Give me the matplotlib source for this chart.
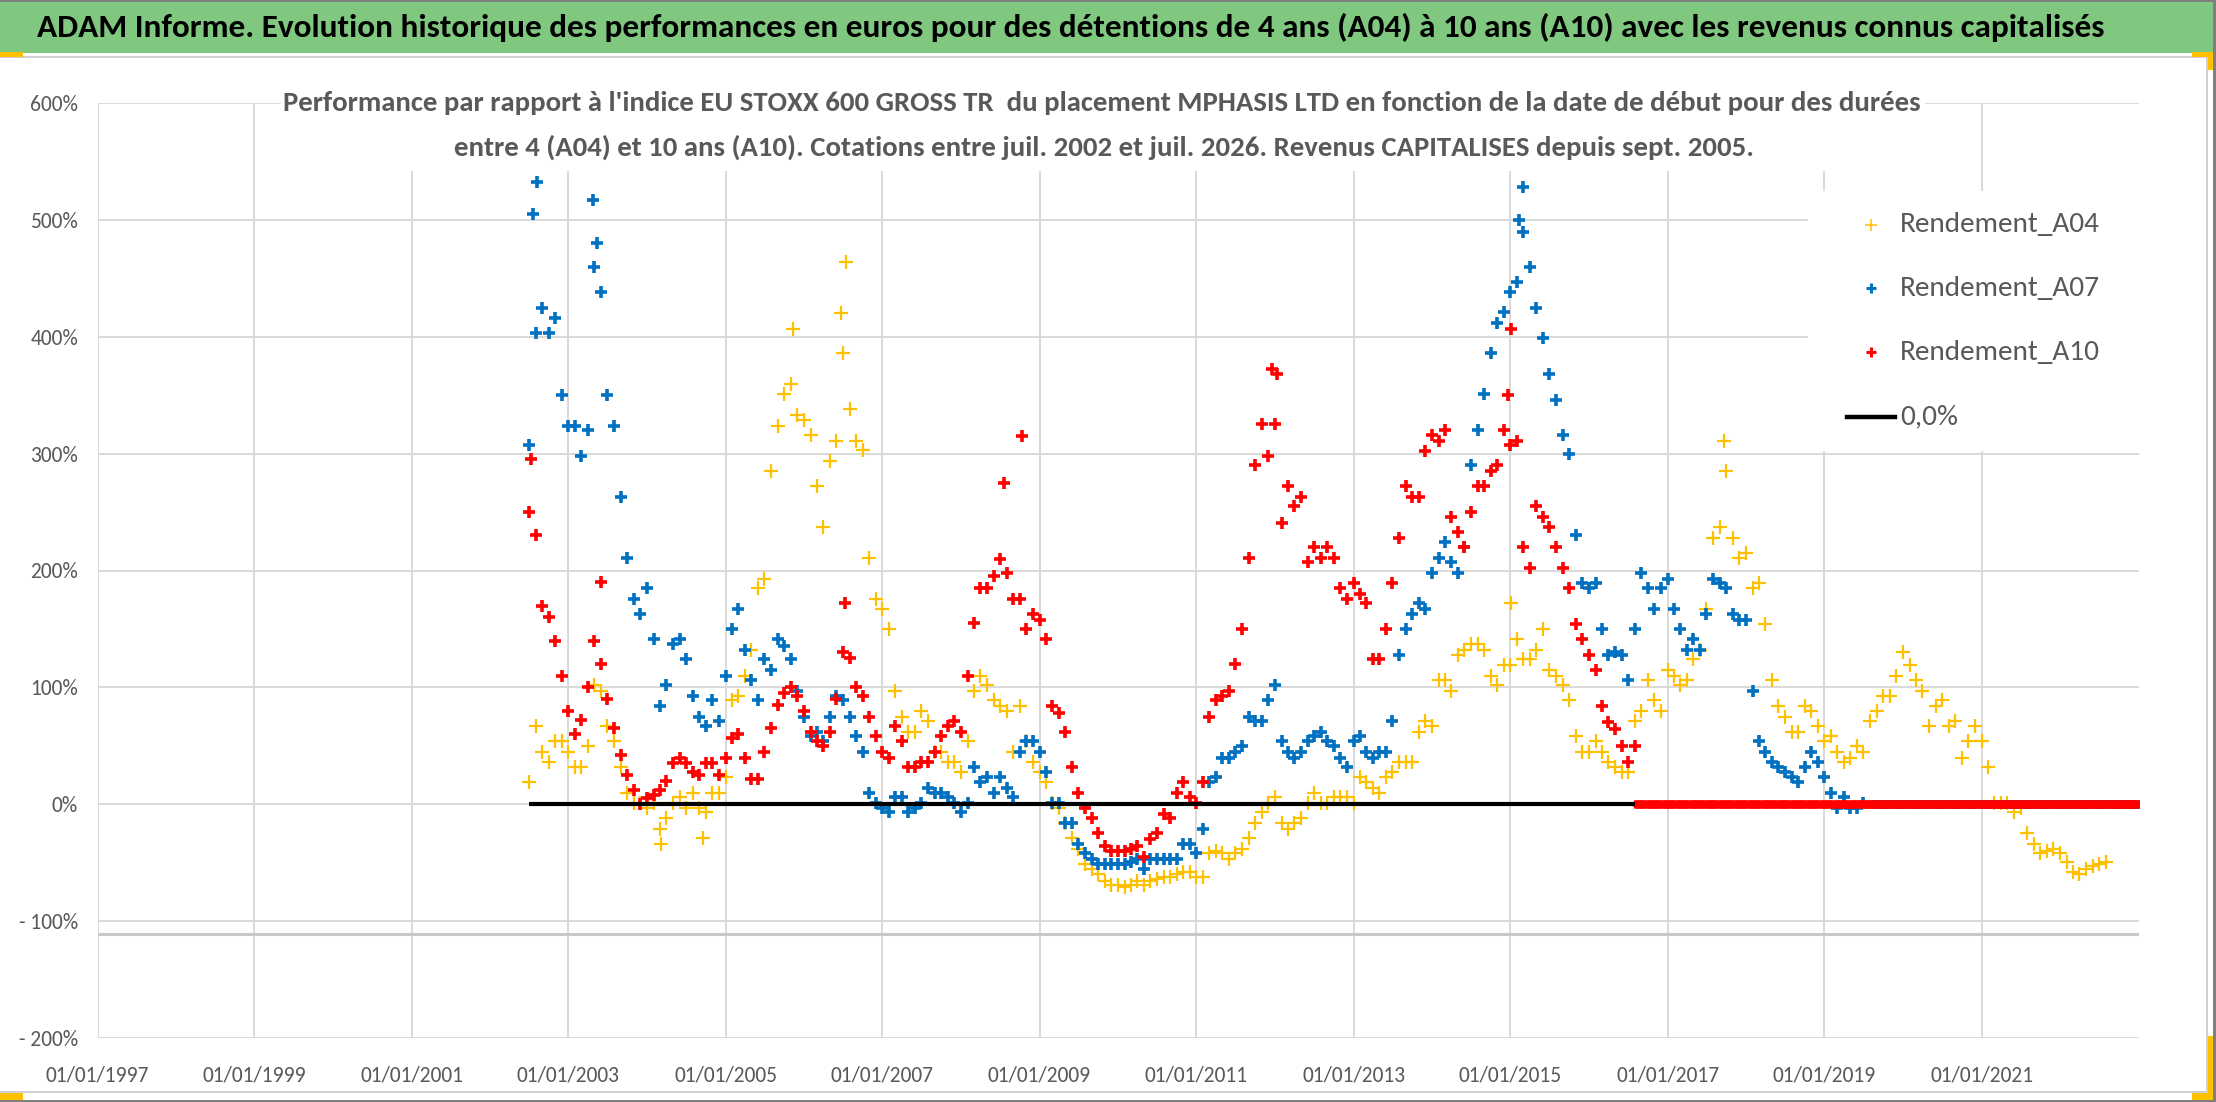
import matplotlib
matplotlib.use("Agg")
import matplotlib.pyplot as plt
import matplotlib.dates as mdates
from matplotlib import font_manager
from matplotlib.patches import Rectangle
from matplotlib.lines import Line2D
import pandas as pd

# pick a Calibri-like font if one is installed
available = {f.name for f in font_manager.fontManager.ttflist}
FONT = next(f for f in ['Carlito', 'Liberation Sans Narrow', 'Lato', 'DejaVu Sans'] if f in available)
plt.rcParams['font.family'] = [FONT, 'DejaVu Sans']

# monthly readings (in %), first month = July 2002
a04_start = '2002-07-01'
a04_values = [
    19, 67, 45, 36, 54, 54,
    45, 32, 32, 50, 102, 97, 67, 54, 32, 10, 1, 1,
    -3, 1, -21, -12, 1, 6, -3, 10, -3, -7, 10, 10,
    23, 89, 93, 110, 132, 185, 193, 285, 324, 351, 360, 333,
    329, 316, 272, 237, 294, 311, 386, 338, 311, 303, 211, 176,
    167, 150, 97, 75, 62, 62, 80, 71, 45, 45, 36, 36,
    28, 54, 97, 110, 102, 89, 84, 80, 45, 84, 54, 36,
    28, 19, 1, -3, -16, -29, -38, -51, -55, -60, -66, -69,
    -69, -71, -69, -66, -69, -66, -64, -62, -62, -60, -58, -58,
    -62, -62, -42, -40, -42, -47, -42, -38, -29, -16, -7, 1,
    6, -16, -21, -16, -12, 1, 10, 1, 1, 6, 6, 6,
    1, 23, 19, 14, 10, 23, 28, 36, 36, 36, 62, 71,
    67, 106, 106, 97, 128, 132, 137, 137, 132, 110, 102, 119,
    119, 141, 124, 124, 132, 150, 115, 110, 102, 89, 58, 45,
    45, 54, 45, 36, 32, 28, 28, 71, 80, 106, 89, 80,
    115, 110, 102, 106, 124, 132, 167, 228, 237, 285, 228, 211,
    215, 185, 189, 154, 106, 84, 75, 62, 62, 84, 80, 67,
    54, 58, 45, 36, 40, 50, 45, 71, 80, 93, 93, 110,
    130, 119, 106, 97, 67, 84, 89, 67, 71, 40, 54, 67,
    54, 32, 1, 1, 1, -7, -3, -25, -34, -42, -40, -38,
    -42, -49, -58, -60, -55, -53, -51, -49,
]
a07_start = '2002-07-01'
a07_values = [
    307, 403, 425, 403, 416, 350,
    324, 324, 298, 320, 460, 438, 350, 324, 263, 211, 176, 163,
    185, 141, 84, 102, 137, 141, 124, 93, 75, 67, 89, 71,
    110, 150, 167, 132, 106, 89, 124, 115, 141, 135, 124, 97,
    75, 58, 62, 54, 75, 93, 89, 75, 58, 45, 10, 1,
    -3, -7, 6, 6, -7, -3, 1, 14, 10, 10, 6, 1,
    -7, 1, 32, 19, 23, 10, 23, 14, 6, 45, 54, 54,
    45, 28, 1, 1, -16, -16, -34, -42, -47, -51, -51, -51,
    -51, -51, -49, -47, -55, -47, -47, -47, -47, -47, -34, -34,
    -42, -21, 19, 23, 40, 40, 45, 50, 75, 71, 71, 89,
    102, 54, 45, 40, 45, 54, 58, 62, 54, 50, 40, 32,
    54, 58, 45, 40, 45, 45, 71, 128, 150, 163, 172, 167,
    198, 211, 224, 207, 198, 220, 290, 320, 351, 386, 412, 421,
    438, 447, 490, 460, 425, 399, 368, 346, 316, 300, 230, 189,
    185, 189, 150, 128, 130, 128, 106, 150, 198, 185, 167, 185,
    193, 167, 150, 132, 141, 132, 163, 193, 189, 185, 163, 158,
    158, 97, 54, 45, 36, 32, 28, 23, 19, 32, 45, 36,
    23, 10, -3, 6, -3, -3, 1,
]
a10_start = '2002-07-01'
a10_values = [
    250, 230, 170, 160, 140, 110,
    80, 60, 72, 100, 140, 120, 90, 65, 42, 25, 12, 0,
    5, 8, 12, 20, 35, 40, 35, 28, 25, 35, 35, 25,
    40, 57, 60, 40, 22, 22, 45, 65, 85, 95, 100, 93,
    80, 62, 54, 50, 62, 90, 130, 125, 100, 93, 75, 58,
    45, 40, 67, 54, 32, 32, 36, 36, 45, 58, 67, 71,
    62, 110, 155, 185, 185, 195, 210, 198, 176, 176, 150, 163,
    158, 141, 84, 78, 62, 32, 10, -3, -12, -25, -36, -40,
    -40, -40, -38, -36, -45, -30, -25, -8, -12, 10, 19, 6,
    1, 19, 75, 89, 93, 97, 120, 150, 211, 290, 325, 298,
    325, 241, 272, 255, 263, 207, 220, 211, 220, 211, 185, 176,
    189, 180, 172, 124, 124, 150, 189, 228, 272, 263, 263, 302,
    316, 311, 320, 246, 233, 220, 250, 272, 272, 285, 290, 320,
    307, 311, 220, 202, 255, 246, 237, 220, 202, 185, 154, 141,
    128, 115, 84, 70, 64, 50, 36, 50,
]

# isolated extreme points
a04_peak_dates = ['2004-03-05', '2004-09-20', '2005-11-10', '2006-06-20', '2006-07-15', '2015-01-05', '2017-09-20']
a04_peak_values = [-34, -29, 407, 420, 464, 172, 311]
a07_peak_dates = ['2002-07-20', '2002-08-10', '2003-04-25', '2003-05-15', '2015-02-10', '2015-02-28']
a07_peak_values = [505, 532, 517, 480, 500, 528]
a10_peak_dates = ['2002-07-10', '2003-06-01', '2006-07-10', '2008-07-20', '2008-10-10', '2011-12-20', '2012-01-10', '2014-12-20', '2015-01-05']
a10_peak_values = [295, 190, 172, 275, 315, 372, 368, 350, 407]

# after the last known value each series is shown at 0 until the end of the axis
a04_zero_from = '2022-09-01'
a07_zero_from = '2019-08-01'
a10_zero_from = '2016-08-01'
zero_until = '2022-12-31'

zero_line_dates = ['2002-07-01', '2016-08-01']
zero_line_values = [0, 0]

y_ticks = [-200, -100, 0, 100, 200, 300, 400, 500, 600]
y_labels = ['- 200%', '- 100%', '0%', '100%', '200%', '300%', '400%', '500%', '600%']
x_years = list(range(1997, 2022, 2))

title = ("ADAM Informe. Evolution historique des performances en euros pour des détentions "
         "de 4 ans (A04) à 10 ans (A10) avec les revenus connus capitalisés")
subtitle1 = ("Performance par rapport à l'indice EU STOXX 600 GROSS TR  du placement MPHASIS LTD "
             "en fonction de la date de début pour des durées")
subtitle2 = ("entre 4 (A04) et 10 ans (A10). Cotations entre juil. 2002 et juil. 2026. "
             "Revenus CAPITALISES depuis sept. 2005.")
legend_labels = ['Rendement_A04', 'Rendement_A07', 'Rendement_A10', '0,0%']

YELLOW = '#FFC000'
BLUE = '#0070C0'
RED = '#FF0000'
GREY_TXT = '#595959'
GRID = '#d9d9d9'

W, H = 2216, 1102
fig = plt.figure(figsize=(W / 100, H / 100), dpi=100)


def fx(x):
    return x / W


def fy(y):
    return 1 - y / H


# plot area in pixels: x 97.5..2138.5, y 103 (600%)..1038 (-200%)
ax = fig.add_axes([fx(97.5), fy(1038), fx(2138.5 - 97.5), (1038 - 103) / H])

a04_dates = pd.date_range(a04_start, periods=len(a04_values), freq='MS')
a07_dates = pd.date_range(a07_start, periods=len(a07_values), freq='MS')
a10_dates = pd.date_range(a10_start, periods=len(a10_values), freq='MS')

series = [
    (a04_dates, a04_values, a04_peak_dates, a04_peak_values, a04_zero_from, YELLOW, 1.6, 10),
    (a07_dates, a07_values, a07_peak_dates, a07_peak_values, a07_zero_from, BLUE, 2.6, 8.5),
    (a10_dates, a10_values, a10_peak_dates, a10_peak_values, a10_zero_from, RED, 2.6, 8.5),
]
for i, (d, v, pd_, pv, z0, col, mew, ms) in enumerate(series):
    ax.plot(d, v, ls='none', marker='+', color=col, mew=mew, ms=ms, zorder=3 + i)
    ax.plot(pd.to_datetime(pd_), pv, ls='none', marker='+', color=col, mew=mew, ms=ms, zorder=3 + i)
    tail = pd.date_range(z0, zero_until, freq='5D')
    ax.plot(tail, [0] * len(tail), ls='none', marker='+', color=col, mew=2.4, ms=5.5, zorder=3 + i)

ax.plot(pd.to_datetime(zero_line_dates), zero_line_values, color='black', lw=3, zorder=7,
        solid_capstyle='butt')

ax.set_xlim(pd.Timestamp('1997-01-01'), pd.Timestamp('2023-01-01'))
ax.set_ylim(-200, 600)
ax.set_yticks(y_ticks)
ax.set_yticklabels(y_labels)
ax.set_xticks([pd.Timestamp(f'{y}-01-01') for y in x_years])
ax.xaxis.set_major_formatter(mdates.DateFormatter('%d/%m/%Y'))
ax.tick_params(axis='both', length=0, labelsize=15.5, labelcolor=GREY_TXT)
ax.tick_params(axis='y', pad=14)
ax.tick_params(axis='x', pad=20)
ax.grid(True, color=GRID, lw=1.4, zorder=0)
ax.set_axisbelow(True)
ax.axhline(-111, color='#c8c8c8', lw=2.2, zorder=1)
for s in ax.spines.values():
    s.set_visible(False)

# title bar
fig.add_artist(Rectangle((0, fy(53)), 1, 53 / H, transform=fig.transFigure,
                         facecolor='#80c880', edgecolor='none', zorder=1))
t_title = fig.text(fx(1071), fy(27), title, ha='center', va='center', fontsize=20,
                   fontweight='bold', color='black', zorder=5)

# white boxes that hide the grid behind the chart title and the legend
fig.add_artist(Rectangle((fx(281), fy(171)), fx(1925 - 281), (171 - 70) / H,
                         transform=fig.transFigure, facecolor='white', edgecolor='none', zorder=1))
fig.add_artist(Rectangle((fx(1808), fy(451)), fx(2145 - 1808), (451 - 191) / H,
                         transform=fig.transFigure, facecolor='white', edgecolor='none', zorder=1))

t_sub1 = fig.text(fx(1102), fy(103), subtitle1, ha='center', va='center', fontsize=16,
                  fontweight='bold', color=GREY_TXT, zorder=5)
t_sub2 = fig.text(fx(1104), fy(147), subtitle2, ha='center', va='center', fontsize=16,
                  fontweight='bold', color=GREY_TXT, zorder=5)

# legend
leg_rows = [225, 288, 352, 417]
leg_texts = []
for (col, mew, ms), lab, yy in zip([(YELLOW, 1.1, 9), (BLUE, 2.2, 7.5), (RED, 2.2, 7.5)], legend_labels[:3], leg_rows):
    fig.add_artist(Line2D([fx(1871)], [fy(yy)], transform=fig.transFigure, ls='none', marker='+',
                          color=col, mew=mew, ms=ms, zorder=5))
    leg_texts.append(fig.text(fx(1900), fy(yy), lab, ha='left', va='center', fontsize=18,
                              color=GREY_TXT, zorder=5))
fig.add_artist(Line2D([fx(1847), fx(1895)], [fy(leg_rows[3]), fy(leg_rows[3])], transform=fig.transFigure,
                      color='black', lw=3.2, zorder=5))
leg_texts.append(fig.text(fx(1900), fy(leg_rows[3]), legend_labels[3], ha='left', va='center',
                          fontsize=18, color=GREY_TXT, zorder=5))

# scale texts to the widths measured on the reference
renderer = fig.canvas.get_renderer()


def fit(t, width_px):
    w = t.get_window_extent(renderer).width
    t.set_fontsize(t.get_fontsize() * width_px / w)


fit(t_title, 2072)
fit(t_sub1, 1632)
t_sub2.set_fontsize(t_sub1.get_fontsize())
fit(leg_texts[0], 200)
for t in leg_texts[1:]:
    t.set_fontsize(leg_texts[0].get_fontsize())

# frame lines and selection handles of the spreadsheet object
for (x0, y0, x1, y1, c) in [
    (0, 56, 2207, 58, '#d0d0d0'), (2206, 56, 2208, 1093, '#d0d0d0'), (0, 1091, 2208, 1093, '#d0d0d0'),
    (0, 0, W, 2, '#7f7f7f'), (W - 3, 0, W, H, '#7f7f7f'), (0, H - 2, W, H, '#7f7f7f'),
    (0, 52, 23, 57, YELLOW), (0, 1093, 23, 1100, YELLOW),
    (2192, 52, 2213, 57, YELLOW), (2208, 52, 2213, 70, YELLOW),
    (2208, 1036, 2213, 1100, YELLOW), (2192, 1093, 2213, 1100, YELLOW),
]:
    fig.add_artist(Rectangle((fx(x0), fy(y1)), fx(x1 - x0), (y1 - y0) / H, transform=fig.transFigure,
                             facecolor=c, edgecolor='none', zorder=6))

fig.savefig('out.png', dpi=100)
